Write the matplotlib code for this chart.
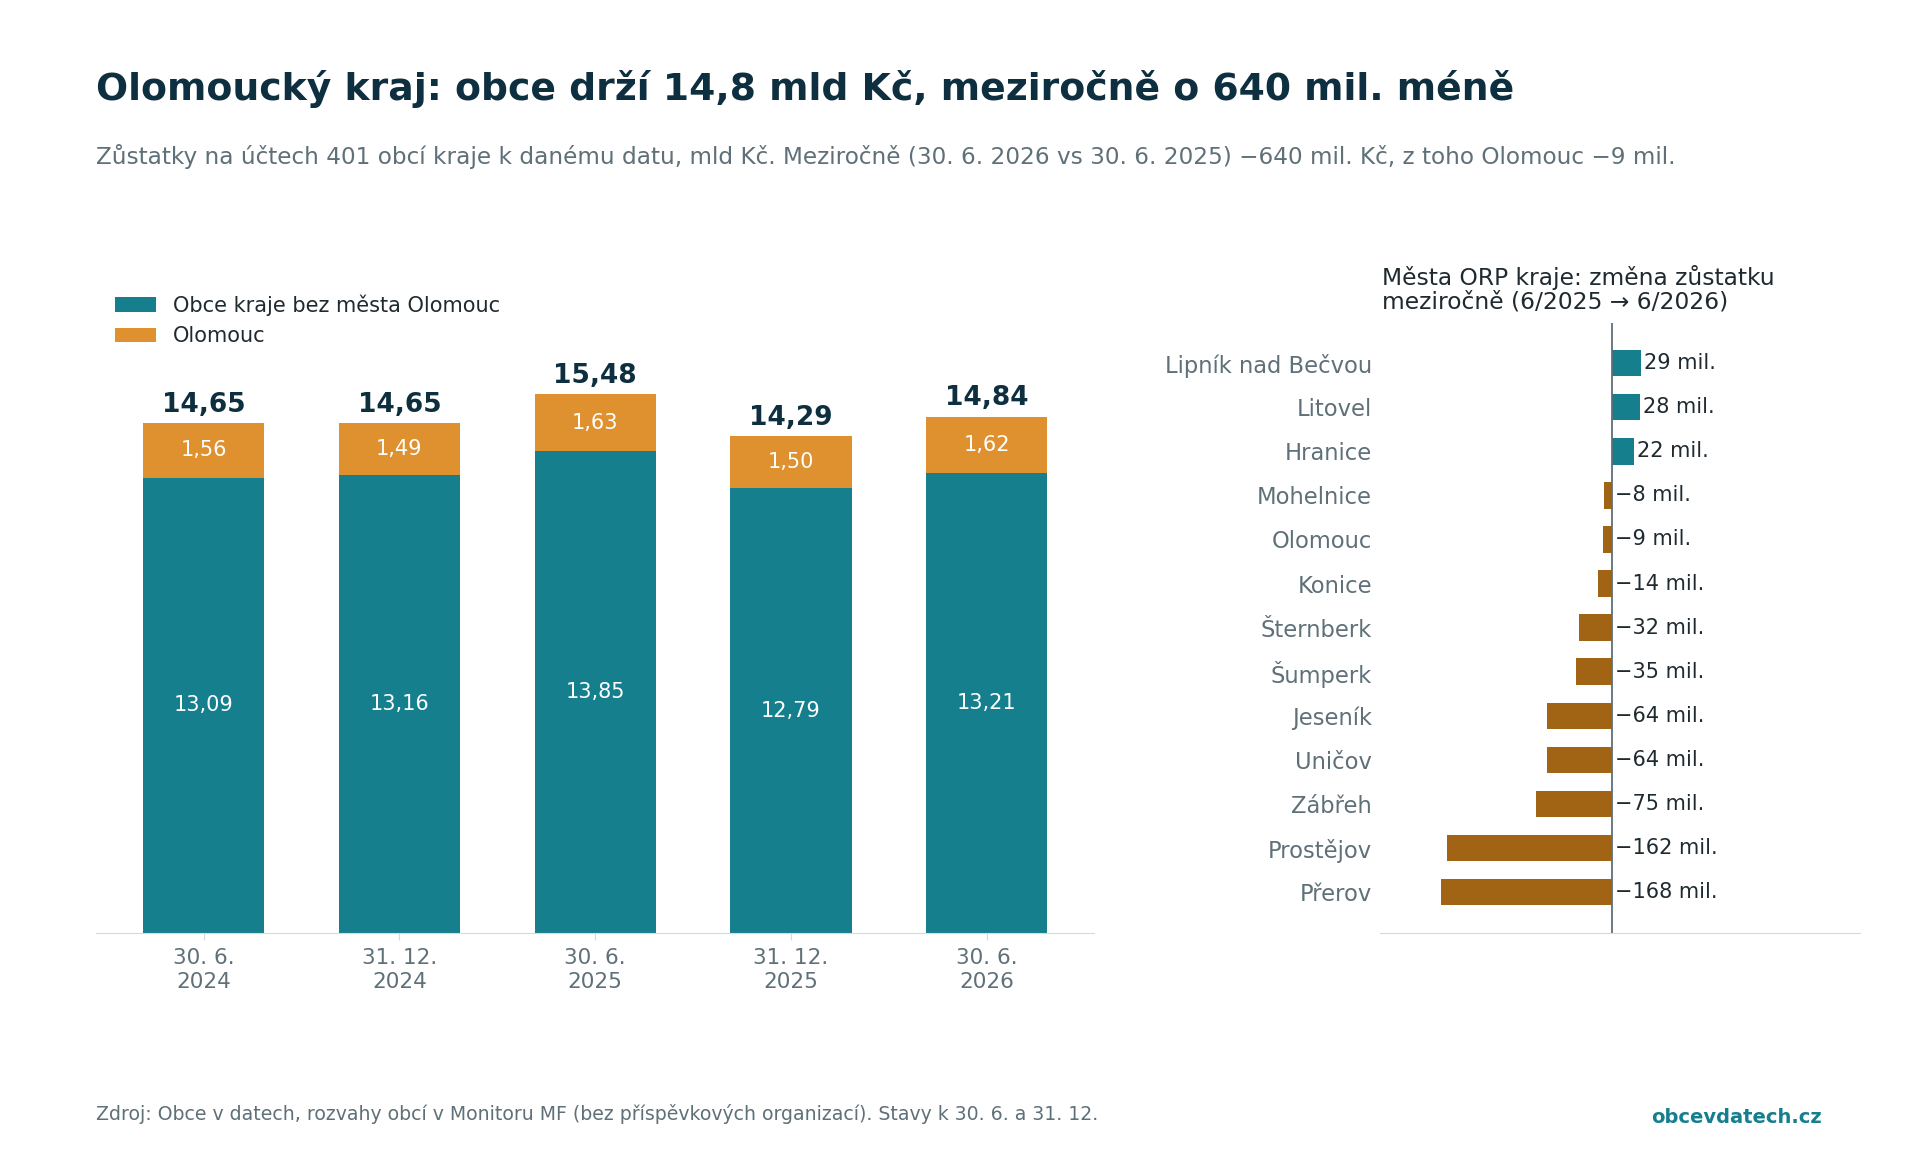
import matplotlib.pyplot as plt
import numpy as np

plt.rcParams['font.family'] = ['DejaVu Sans']

# data
dates = ["30. 6.\n2024", "31. 12.\n2024", "30. 6.\n2025", "31. 12.\n2025", "30. 6.\n2026"]
obce = [13.09, 13.16, 13.85, 12.79, 13.21]
olomouc = [1.56, 1.49, 1.63, 1.50, 1.62]
totals = [14.65, 14.65, 15.48, 14.29, 14.84]

mesta = ["Lipník nad Bečvou", "Litovel", "Hranice", "Mohelnice", "Olomouc", "Konice",
         "Šternberk", "Šumperk", "Jeseník", "Uničov", "Zábřeh", "Prostějov", "Přerov"]
zmena = [29, 28, 22, -8, -9, -14, -32, -35, -64, -64, -75, -162, -168]

teal = "#157F8E"
orange = "#E0912F"
brown = "#A06414"
dark = "#0D2F3F"
grey = "#5F7078"

def fmt(v):
    return f"{v:.2f}".replace(".", ",")

fig = plt.figure(figsize=(19.2, 11.52), dpi=100)
fig.text(0.05, 0.923, "Olomoucký kraj: obce drží 14,8 mld Kč, meziročně o 640 mil. méně",
         fontsize=27.2, fontweight="bold", color=dark, va="center")
fig.text(0.05, 0.864, "Zůstatky na účtech 401 obcí kraje k danému datu, mld Kč. Meziročně (30. 6. 2026 vs 30. 6. 2025) −640 mil. Kč, z toho Olomouc −9 mil.",
         fontsize=16.7, color=grey, va="center")
fig.text(0.05, 0.033, "Zdroj: Obce v datech, rozvahy obcí v Monitoru MF (bez příspěvkových organizací). Stavy k 30. 6. a 31. 12.",
         fontsize=13.6, color=grey, va="center")
fig.text(0.949, 0.03, "obcevdatech.cz", fontsize=14, color=teal, fontweight="bold", ha="right", va="center")

# left chart
ax = fig.add_axes([0.05, 0.19, 0.52, 0.565])
x = np.arange(len(dates))
ax.bar(x, obce, width=0.62, color=teal, label="Obce kraje bez města Olomouc")
ax.bar(x, olomouc, width=0.62, bottom=obce, color=orange, label="Olomouc")
for i in x:
    ax.text(i, obce[i] / 2, fmt(obce[i]), ha="center", va="center", color="white", fontsize=15)
    ax.text(i, obce[i] + olomouc[i] / 2, fmt(olomouc[i]), ha="center", va="center", color="white", fontsize=15)
    ax.text(i, totals[i] + 0.15, fmt(totals[i]), ha="center", va="bottom", color=dark, fontsize=19, fontweight="bold")
ax.set_xlim(-0.55, 4.55)
ax.set_ylim(0, 18.7)
ax.set_xticks(x)
ax.set_xticklabels(dates, fontsize=15.5, color=grey)
ax.set_yticks([])
for s in ["top", "right", "left"]:
    ax.spines[s].set_visible(False)
ax.spines["bottom"].set_color("#D5DADD")
ax.tick_params(axis="x", color="#D5DADD", length=5, pad=6)
ax.legend(loc="upper left", bbox_to_anchor=(0.0, 1.01), frameon=False, fontsize=15,
          handlelength=2.0, handleheight=0.7, labelcolor="#1f2a30")

# right chart
ax2 = fig.add_axes([0.719, 0.19, 0.25, 0.53])
y = np.arange(len(mesta))
cols = [teal if v > 0 else brown for v in zmena]
ax2.barh(y, zmena, height=0.6, color=cols)
for yi, v in zip(y, zmena):
    lab = f"{v} mil." if v > 0 else f"−{-v} mil."
    ax2.text(max(v, 0) + 3, yi, lab, va="center", ha="left", fontsize=15, color="#1f2a30")
ax2.axvline(0, color=grey, lw=1.3)
ax2.set_xlim(-228, 245)
ax2.set_ylim(12.93, -0.92)
ax2.set_yticks(y)
ax2.set_yticklabels(mesta, fontsize=16.3, color=grey)
ax2.tick_params(axis="y", length=0, pad=6)
ax2.set_xticks([])
for s in ["top", "right", "left"]:
    ax2.spines[s].set_visible(False)
ax2.spines["bottom"].set_color("#D5DADD")
fig.text(0.72, 0.749, "Města ORP kraje: změna zůstatku\nmeziročně (6/2025 → 6/2026)",
         fontsize=16.8, color="#1f2a30", va="center", linespacing=1.0)

fig.savefig("out.png", dpi=100)
